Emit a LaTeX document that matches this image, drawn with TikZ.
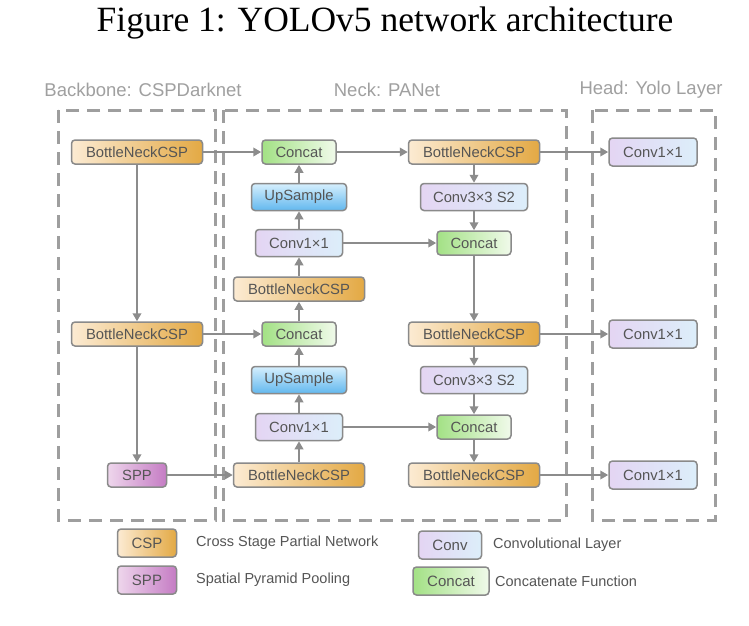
\documentclass[tikz,border=0pt]{standalone}
\usepackage{fontspec}
\setmainfont{Liberation Sans}
\newfontfamily\titlefont{Liberation Serif}
\usetikzlibrary{arrows.meta}
\definecolor{linegray}{HTML}{8C8C8C}
\definecolor{framegray}{HTML}{9E9E9E}
\definecolor{boxgray}{HTML}{8A8A8A}
\definecolor{txt}{HTML}{555555}
\definecolor{hdr}{HTML}{A0A0A0}
\definecolor{cspL}{HTML}{FCEBD3}
\definecolor{cspR}{HTML}{E3A944}
\definecolor{catL}{HTML}{A3E185}
\definecolor{catR}{HTML}{F0FAEA}
\definecolor{upT}{HTML}{D6EFFD}
\definecolor{upB}{HTML}{62B8EE}
\definecolor{convL}{HTML}{E4D5F3}
\definecolor{convR}{HTML}{DCEEFA}
\definecolor{sppL}{HTML}{EED6EC}
\definecolor{sppR}{HTML}{C57CC4}
\begin{document}
\begin{tikzpicture}[x=1pt,y=-1pt,
  blk/.style={draw=boxgray, line width=1.5pt, rounded corners=3.5pt, text=txt,
    font=\fontsize{14.8}{16}\selectfont, inner sep=0pt, minimum height=24pt},
  csp/.style={blk, left color=cspL, right color=cspR, minimum width=131pt},
  cat/.style={blk, left color=catL, right color=catR, minimum width=74pt},
  up/.style={blk, top color=upT, bottom color=upB, minimum width=95pt, minimum height=27pt},
  conva/.style={blk, left color=convL, right color=convR, minimum width=87pt, minimum height=27pt},
  convb/.style={blk, left color=convL, right color=convR, minimum width=107pt, minimum height=27pt},
  convh/.style={blk, left color=convL, right color=convR, minimum width=88pt, minimum height=28pt},
  spp/.style={blk, left color=sppL, right color=sppR, minimum width=59pt},
  frame/.style={draw=framegray, line width=3pt, dash pattern=on 13pt off 8pt},
  hdrtext/.style={text=hdr, font=\fontsize{18.5}{20}\selectfont},
  legtext/.style={text=txt, font=\fontsize{14.5}{16}\selectfont, anchor=west, inner sep=0pt},
  arr/.style={draw=linegray, line width=2.6pt, -{Triangle[length=8pt,width=8.5pt]}}]
\useasboundingbox (0,0) rectangle (749,625);
\fill[white] (0,0) rectangle (749,625);

% title
\node[font=\titlefont\fontsize{35.5}{40}\selectfont] (title) at (385,23) {Figure 1: YOLOv5 network architecture};

% headers
\node[hdrtext] (hb) at (143,90) {Backbone: CSPDarknet};
\node[hdrtext] (hn) at (387,90) {Neck: PANet};
\node[hdrtext] (hh) at (651,90) {Head: Yolo Layer};

% frames
\draw[frame] (58,110) rectangle (215,520);
\draw[frame] (223,110) rectangle (566,520);
\draw[frame] (592,110) rectangle (715,520);

% backbone
\node[csp] (b1) at (137,152) {BottleNeckCSP};
\node[csp] (b2) at (137,334) {BottleNeckCSP};
\node[spp] (spp) at (137,475) {SPP};

% neck left column
\node[cat] (c1) at (299,152) {Concat};
\node[up] (u1) at (299,197) {UpSample};
\node[conva] (k1) at (299,243) {Conv1×1};
\node[csp] (n1) at (299,289) {BottleNeckCSP};
\node[cat] (c2) at (299,334) {Concat};
\node[up] (u2) at (299,380) {UpSample};
\node[conva] (k2) at (299,427) {Conv1×1};
\node[csp] (n2) at (299,475) {BottleNeckCSP};

% neck right column
\node[csp] (r1) at (474,152) {BottleNeckCSP};
\node[convb] (s1) at (474,197) {Conv3×3 S2};
\node[cat] (c3) at (474,243) {Concat};
\node[csp] (r2) at (474,334) {BottleNeckCSP};
\node[convb] (s2) at (474,380) {Conv3×3 S2};
\node[cat] (c4) at (474,427) {Concat};
\node[csp] (r3) at (474,475) {BottleNeckCSP};

% head
\node[convh] (h1) at (653,152) {Conv1×1};
\node[convh] (h2) at (653,334) {Conv1×1};
\node[convh] (h3) at (653,475) {Conv1×1};

% connectors
\draw[arr] (b1) -- (b2);
\draw[arr] (b2) -- (spp);
\draw[arr] (b1) -- (c1);
\draw[arr] (b2) -- (c2);
\draw[arr] (spp) -- (n2);

\draw[arr] (u1) -- (c1);
\draw[arr] (k1) -- (u1);
\draw[arr] (n1) -- (k1);
\draw[arr] (c2) -- (n1);
\draw[arr] (u2) -- (c2);
\draw[arr] (k2) -- (u2);
\draw[arr] (n2) -- (k2);

\draw[arr] (c1) -- (r1);
\draw[arr] (k1) -- (c3);
\draw[arr] (k2) -- (c4);

\draw[arr] (r1) -- (s1);
\draw[arr] (s1) -- (c3);
\draw[arr] (c3) -- (r2);
\draw[arr] (r2) -- (s2);
\draw[arr] (s2) -- (c4);
\draw[arr] (c4) -- (r3);

\draw[arr] (r1) -- (h1);
\draw[arr] (r2) -- (h2);
\draw[arr] (r3) -- (h3);

% legend
\node[csp, minimum width=59pt, minimum height=28pt, font=\fontsize{15}{16}\selectfont] (lcsp) at (147,543) {CSP};
\node[legtext] (tcsp) at (196,543) {Cross Stage Partial Network};
\node[spp, minimum width=59pt, minimum height=28pt, font=\fontsize{15}{16}\selectfont] (lspp) at (147,580) {SPP};
\node[legtext] (tspp) at (196,580) {Spatial Pyramid Pooling};
\node[conva, minimum width=63pt, minimum height=28pt, font=\fontsize{15}{16}\selectfont] (lconv) at (450,545) {Conv};
\node[legtext] (tconv) at (493,545) {Convolutional Layer};
\node[cat, minimum width=76pt, minimum height=28pt, font=\fontsize{15}{16}\selectfont] (lcat) at (451,581) {Concat};
\node[legtext] (tcat) at (495,581) {Concatenate Function};
\end{tikzpicture}
\end{document}
